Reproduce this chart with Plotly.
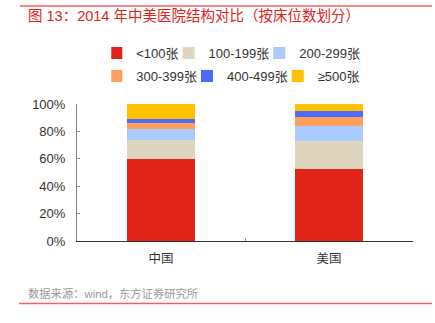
import plotly.graph_objects as go

categories = ["中国", "美国"]
series_names = ["<100张", "100-199张", "200-299张", "300-399张", "400-499张", "≥500张"]
china = [0.60, 0.14, 0.075, 0.045, 0.03, 0.11]
usa = [0.525, 0.205, 0.11, 0.065, 0.042, 0.053]
colors = ["#E2231A", "#DFD5BE", "#A9CBFF", "#FF9F5A", "#4F6BFF", "#FFC000"]

FONT = "Liberation Sans, Arial, Noto Sans CJK SC, sans-serif"

fig = go.Figure()
for i, name in enumerate(series_names):
    fig.add_trace(go.Bar(
        x=categories, y=[china[i], usa[i]], name=name,
        marker=dict(color=colors[i], line=dict(width=0)),
        legend="legend" if i < 3 else "legend2",
    ))

leg_common = dict(orientation="h", xanchor="left", yanchor="middle",
                  font=dict(size=13, color="#333333"), indentation=-15,
                  traceorder="normal", bgcolor="rgba(0,0,0,0)")

fig.update_layout(
    width=435, height=323,
    barmode="stack", bargap=0.6,
    margin=dict(l=77, r=22, t=104, b=82, autoexpand=False),
    paper_bgcolor="white", plot_bgcolor="white",
    font=dict(family=FONT, size=12, color="#333333"),
    showlegend=True,
    legend=dict(x=0.102, y=1 + (104 - 53) / 137, **leg_common),
    legend2=dict(x=0.102, y=1 + (104 - 76) / 137, **leg_common),
    xaxis=dict(showline=True, linecolor="#333333", linewidth=1.2,
               ticks="inside", ticklen=3, tickcolor="#999999", tickson="boundaries",
               tickfont=dict(size=12.5, color="#333333"), showgrid=False,
               ticklabelstandoff=6),
    yaxis=dict(range=[0, 1], dtick=0.2, tickformat=".0%", showline=True,
               linecolor="#888888", linewidth=1, ticks="inside", ticklen=3,
               tickcolor="#888888", showgrid=False, zeroline=False,
               tickfont=dict(size=13, color="#333333"), ticklabelstandoff=8),
)

# title, source and rules
fig.add_annotation(text="图 13：2014 年中美医院结构对比（按床位数划分）",
                   xref="paper", yref="paper", x=(26 - 77) / 336, y=1 + (104 - 16) / 137,
                   xanchor="left", yanchor="middle", showarrow=False,
                   font=dict(size=14.5, color="#E2231A", family=FONT))
fig.add_annotation(text="数据来源：wind，东方证券研究所",
                   xref="paper", yref="paper", x=(26 - 77) / 336, y=-(293 - 241) / 137,
                   xanchor="left", yanchor="middle", showarrow=False,
                   font=dict(size=11.3, color="#999999", family=FONT))
fig.add_shape(type="line", xref="paper", yref="paper",
              x0=(20 - 77) / 336, x1=(432 - 77) / 336,
              y0=1 + (104 - 6) / 137, y1=1 + (104 - 6) / 137,
              line=dict(color="#F06060", width=1.5))
fig.add_shape(type="line", xref="paper", yref="paper",
              x0=(19 - 77) / 336, x1=(432 - 77) / 336,
              y0=-(303.5 - 241) / 137, y1=-(303.5 - 241) / 137,
              line=dict(color="#F06060", width=1.5))

fig.write_html("out.html")
